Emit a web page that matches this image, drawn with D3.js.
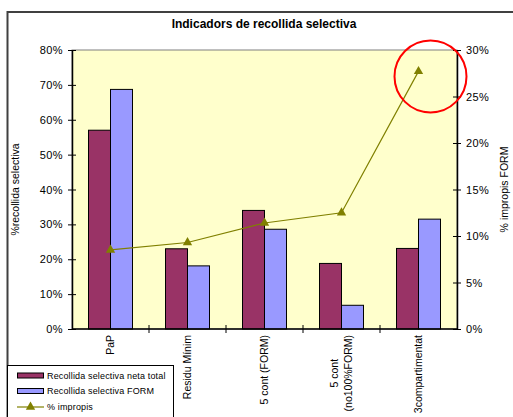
<!DOCTYPE html>
<html>
<head>
<meta charset="UTF-8"/>
<script src="https://d3js.org/d3.v7.min.js"></script>
<style>
body { margin: 0; background: #fff; }
svg text { font-family: Arial, "Liberation Sans", sans-serif; fill: #000; }
</style>
</head>
<body>
<svg id="chart" width="513" height="417"></svg>
<script>
'use strict';

// data
var categories = ['PaP', 'Residu Mínim', '5 cont (FORM)', '5 cont\n(no100%FORM)', '3compartimentat'];
var netaTotal = [0.57, 0.23, 0.34, 0.188, 0.231];
var form = [0.687, 0.181, 0.286, 0.068, 0.315];
var impropis = [0.085, 0.093, 0.114, 0.125, 0.277];
var seriesNames = ['Recollida selectiva neta total', 'Recollida selectiva FORM', '% impropis'];
var leftTicks = [0, 0.1, 0.2, 0.3, 0.4, 0.5, 0.6, 0.7, 0.8];
var rightTicks = [0, 0.05, 0.1, 0.15, 0.2, 0.25, 0.3];

var barColors = ['#993366', '#9999ff'];
var lineColor = '#808000';

var svg = d3.select('#chart');
var plot = {left: 72, right: 457, top: 50, bottom: 329};

// chart frame
svg.append('rect')
	.attr('x', 7.5).attr('y', 12)
	.attr('width', 520).attr('height', 420)
	.attr('fill', '#fff')
	.attr('stroke', '#404040')
	.attr('stroke-width', 2);

svg.append('text')
	.attr('x', 264).attr('y', 28)
	.attr('text-anchor', 'middle')
	.attr('font-weight', 'bold')
	.attr('font-size', 12)
	.text('Indicadors de recollida selectiva');

var x0 = d3.scaleBand().domain(categories).range([plot.left, plot.right]);
var x1 = d3.scaleBand().domain([0, 1]).range([0, x0.bandwidth()]).paddingOuter(0.75).paddingInner(0);
var yL = d3.scaleLinear().domain([0, 0.8]).range([plot.bottom, plot.top]);
var yR = d3.scaleLinear().domain([0, 0.3]).range([plot.bottom, plot.top]);

// plot area
svg.append('rect')
	.attr('x', plot.left).attr('y', plot.top)
	.attr('width', plot.right - plot.left).attr('height', plot.bottom - plot.top)
	.attr('fill', '#ffffcc')
	.attr('stroke', '#808080')
	.attr('stroke-width', 1);

// bars
var barData = [];
categories.forEach(function(c, i){
	barData.push({cat: c, s: 0, v: netaTotal[i]});
	barData.push({cat: c, s: 1, v: form[i]});
});
svg.append('g').selectAll('rect')
	.data(barData)
	.enter()
	.append('rect')
	.attr('x', function(d){ return x0(d.cat) + x1(d.s); })
	.attr('y', function(d){ return yL(d.v); })
	.attr('width', x1.bandwidth())
	.attr('height', function(d){ return yL(0) - yL(d.v); })
	.attr('fill', function(d){ return barColors[d.s]; })
	.attr('stroke', '#000')
	.attr('stroke-width', 1);

// axes
var fmt = d3.format('.0%');
var axL = d3.axisLeft(yL).tickValues(leftTicks).tickFormat(fmt).tickSizeInner(4).tickSizeOuter(0).tickPadding(5);
var gL = svg.append('g').attr('transform', 'translate(' + plot.left + ',0)').call(axL);
gL.selectAll('.tick line').attr('x2', 4).attr('x1', -4);

var axR = d3.axisRight(yR).tickValues(rightTicks).tickFormat(fmt).tickSizeInner(4).tickSizeOuter(0).tickPadding(5);
var gR = svg.append('g').attr('transform', 'translate(' + plot.right + ',0)').call(axR);
gR.selectAll('.tick line').attr('x1', -4).attr('x2', 4);

[gL, gR].forEach(function(g){
	g.selectAll('.domain').attr('stroke', '#000').attr('stroke-width', 1.5);
	g.selectAll('.tick line').attr('stroke', '#000');
	g.selectAll('.tick text').attr('font-size', 11).attr('font-family', 'Arial, "Liberation Sans", sans-serif').style('letter-spacing', '0.4px');
});

// bottom axis with ticks at band boundaries
var gB = svg.append('g');
gB.append('line')
	.attr('x1', plot.left).attr('x2', plot.right)
	.attr('y1', plot.bottom).attr('y2', plot.bottom)
	.attr('stroke', '#000').attr('stroke-width', 1.5);
gB.selectAll('.btick')
	.data(categories.slice(1))
	.enter()
	.append('line')
	.attr('x1', function(d){ return x0(d); })
	.attr('x2', function(d){ return x0(d); })
	.attr('y1', plot.bottom - 4).attr('y2', plot.bottom + 4)
	.attr('stroke', '#000');

var labels = gB.selectAll('.clabel')
	.data(categories)
	.enter()
	.append('text')
	.attr('class', 'clabel')
	.attr('font-size', 10.5)
	.attr('text-anchor', 'middle');
labels.each(function(d){
	var t = d3.select(this);
	var lines = d.split('\n');
	var lh = 14;
	lines.forEach(function(line, i){
		t.append('tspan')
			.attr('x', 0)
			.attr('y', (i - (lines.length - 1) / 2) * lh)
			.attr('dy', '0.35em')
			.text(line);
	});
	var maxLen = d3.max(t.selectAll('tspan').nodes(), function(n){ return n.getComputedTextLength(); });
	var cx = x0(d) + x0.bandwidth() / 2;
	var cy = plot.bottom + 6 + maxLen / 2;
	t.attr('transform', 'translate(' + cx + ',' + cy + ') rotate(-90)');
});

// line series
var pts = categories.map(function(c, i){
	return [x0(c) + x0.bandwidth() / 2, yR(impropis[i])];
});
svg.append('path')
	.attr('d', d3.line()(pts))
	.attr('fill', 'none')
	.attr('stroke', lineColor)
	.attr('stroke-width', 1.2);
var tri = d3.symbol().type(d3.symbolTriangle).size(38);
svg.append('g').selectAll('path')
	.data(pts)
	.enter()
	.append('path')
	.attr('d', tri)
	.attr('transform', function(d){ return 'translate(' + d[0] + ',' + d[1] + ')'; })
	.attr('fill', lineColor);

// axis titles
svg.append('text')
	.attr('transform', 'translate(19,' + (plot.top + plot.bottom) / 2 + ') rotate(-90)')
	.attr('text-anchor', 'middle')
	.attr('font-size', 10.5)
	.text('%recollida selectiva');
svg.append('text')
	.attr('transform', 'translate(508,' + (plot.top + plot.bottom) / 2 + ') rotate(-90)')
	.attr('text-anchor', 'middle')
	.attr('font-size', 10.5)
	.text('% impropis FORM');

// red highlight circle around the last point
var last = pts[pts.length - 1];
svg.append('circle')
	.attr('cx', last[0] + 12)
	.attr('cy', last[1] + 5)
	.attr('r', 36)
	.attr('fill', 'none')
	.attr('stroke', '#ff0000')
	.attr('stroke-width', 2);

// legend
var lg = svg.append('g');
lg.append('rect')
	.attr('x', 7.5).attr('y', 365.5)
	.attr('width', 166).attr('height', 80)
	.attr('fill', '#fff')
	.attr('stroke', '#000')
	.attr('stroke-width', 1);
var ly = [375.5, 391, 407];
[0, 1].forEach(function(i){
	lg.append('rect')
		.attr('x', 17.5).attr('y', ly[i] - 2.5)
		.attr('width', 26).attr('height', 5)
		.attr('fill', barColors[i])
		.attr('stroke', '#000')
		.attr('stroke-width', 1);
});
lg.append('line')
	.attr('x1', 17).attr('x2', 44)
	.attr('y1', ly[2]).attr('y2', ly[2])
	.attr('stroke', lineColor).attr('stroke-width', 1.2);
lg.append('path')
	.attr('d', tri)
	.attr('transform', 'translate(30.5,' + ly[2] + ')')
	.attr('fill', lineColor);
lg.selectAll('.ltxt')
	.data(seriesNames)
	.enter()
	.append('text')
	.attr('x', 47)
	.attr('y', function(d, i){ return ly[i]; })
	.attr('dy', '0.35em')
	.attr('font-size', 9)
	.style('letter-spacing', '0.15px')
	.text(function(d){ return d; });
</script>
</body>
</html>
